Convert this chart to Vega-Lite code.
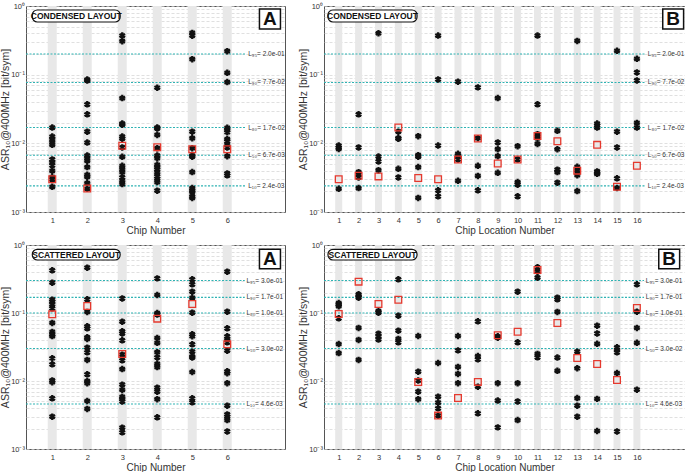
{
  "$schema": "https://vega.github.io/schema/vega-lite/v6.json",
  "padding": {"left": 0, "top": 1, "right": 0, "bottom": 0},
  "background": "white",
  "config": {
    "font": "Liberation Sans",
    "view": {"stroke": "#555", "strokeWidth": 1},
    "axis": {"labelFont": "Liberation Sans", "titleFont": "Liberation Sans", "labelFontSize": 7.5, "titleFontSize": 10, "labelColor": "#333", "titleColor": "#333", "titleFontWeight": "normal", "domain": false, "ticks": false},
    "axisY": {"titleFontSize": 10.5, "titlePadding": 0, "labelPadding": 1.5},
    "axisX": {"labelOverlap": false, "labelPadding": 4, "titlePadding": 2, "format": "d"},
    "text": {"font": "Liberation Sans"}
  },
  "datasets": {
    "chipsA": [{"chip":1},{"chip":2},{"chip":3},{"chip":4},{"chip":5},{"chip":6}],
    "chipsB": [{"chip":1},{"chip":2},{"chip":3},{"chip":4},{"chip":5},{"chip":6},{"chip":7},{"chip":8},{"chip":9},{"chip":10},{"chip":11},{"chip":12},{"chip":13},{"chip":14},{"chip":15},{"chip":16}],
    "levels": [
      {"p":"C","label":"L₉₅= 2.0e-01","value":0.2},
      {"p":"C","label":"L₉₀= 7.7e-02","value":0.077},
      {"p":"C","label":"L₈₀= 1.7e-02","value":0.017},
      {"p":"C","label":"L₅₀= 6.7e-03","value":0.0067},
      {"p":"C","label":"L₁₀= 2.4e-03","value":0.0024},
      {"p":"S","label":"L₉₅= 3.0e-01","value":0.3},
      {"p":"S","label":"L₉₀= 1.7e-01","value":0.17},
      {"p":"S","label":"L₈₀= 1.0e-01","value":0.1},
      {"p":"S","label":"L₅₀= 3.0e-02","value":0.03},
      {"p":"S","label":"L₁₀= 4.6e-03","value":0.0046}
    ],
    "notes": [
      {"p":"AC","layout":"CONDENSED LAYOUT","tag":"A"},
      {"p":"BC","layout":"CONDENSED LAYOUT","tag":"B"},
      {"p":"AS","layout":"SCATTERED LAYOUT","tag":"A"},
      {"p":"BS","layout":"SCATTERED LAYOUT","tag":"B"}
    ],
    "refs": [
      {"p":"AC","chip":1,"asr":0.0030},{"p":"AC","chip":2,"asr":0.0022},{"p":"AC","chip":3,"asr":0.0092},{"p":"AC","chip":4,"asr":0.0088},{"p":"AC","chip":5,"asr":0.0082},{"p":"AC","chip":6,"asr":0.0082},
      {"p":"BC","chip":1,"asr":0.0030},{"p":"BC","chip":2,"asr":0.00337},{"p":"BC","chip":3,"asr":0.0033},{"p":"BC","chip":4,"asr":0.017},{"p":"BC","chip":5,"asr":0.00312},{"p":"BC","chip":6,"asr":0.0030},{"p":"BC","chip":7,"asr":0.00582},{"p":"BC","chip":8,"asr":0.01175},{"p":"BC","chip":9,"asr":0.00509},{"p":"BC","chip":10,"asr":0.0058},{"p":"BC","chip":11,"asr":0.0128},{"p":"BC","chip":12,"asr":0.01074},{"p":"BC","chip":13,"asr":0.0040},{"p":"BC","chip":14,"asr":0.0095},{"p":"BC","chip":15,"asr":0.00233},{"p":"BC","chip":16,"asr":0.00471},
      {"p":"AS","chip":1,"asr":0.0955},{"p":"AS","chip":2,"asr":0.127},{"p":"AS","chip":3,"asr":0.0249},{"p":"AS","chip":4,"asr":0.0826},{"p":"AS","chip":5,"asr":0.1356},{"p":"AS","chip":6,"asr":0.0346},
      {"p":"BS","chip":1,"asr":0.0966},{"p":"BS","chip":2,"asr":0.289},{"p":"BS","chip":3,"asr":0.1356},{"p":"BS","chip":4,"asr":0.157},{"p":"BS","chip":5,"asr":0.00967},{"p":"BS","chip":6,"asr":0.0031},{"p":"BS","chip":7,"asr":0.00562},{"p":"BS","chip":8,"asr":0.0097},{"p":"BS","chip":9,"asr":0.047},{"p":"BS","chip":10,"asr":0.0531},{"p":"BS","chip":11,"asr":0.429},{"p":"BS","chip":12,"asr":0.0713},{"p":"BS","chip":13,"asr":0.0218},{"p":"BS","chip":14,"asr":0.0178},{"p":"BS","chip":15,"asr":0.01035},{"p":"BS","chip":16,"asr":0.1186}
    ],
    "samples": [
      {"p":"AC","chip":1,"asr":0.0170},{"p":"AC","chip":1,"asr":0.01256},{"p":"AC","chip":1,"asr":0.01148},{"p":"AC","chip":1,"asr":0.01038},{"p":"AC","chip":1,"asr":0.0095},{"p":"AC","chip":1,"asr":0.00582},{"p":"AC","chip":1,"asr":0.00532},{"p":"AC","chip":1,"asr":0.00476},{"p":"AC","chip":1,"asr":0.00398},{"p":"AC","chip":1,"asr":0.00323},{"p":"AC","chip":1,"asr":0.00295},{"p":"AC","chip":1,"asr":0.00233},
      {"p":"AC","chip":2,"asr":0.085},{"p":"AC","chip":2,"asr":0.082},{"p":"AC","chip":2,"asr":0.037},{"p":"AC","chip":2,"asr":0.0265},{"p":"AC","chip":2,"asr":0.0148},{"p":"AC","chip":2,"asr":0.01028},{"p":"AC","chip":2,"asr":0.00665},{"p":"AC","chip":2,"asr":0.00608},{"p":"AC","chip":2,"asr":0.00557},{"p":"AC","chip":2,"asr":0.00451},{"p":"AC","chip":2,"asr":0.00348},{"p":"AC","chip":2,"asr":0.00326},{"p":"AC","chip":2,"asr":0.00264},{"p":"AC","chip":2,"asr":0.00218},
      {"p":"AC","chip":3,"asr":0.371},{"p":"AC","chip":3,"asr":0.307},{"p":"AC","chip":3,"asr":0.0457},{"p":"AC","chip":3,"asr":0.0194},{"p":"AC","chip":3,"asr":0.0187},{"p":"AC","chip":3,"asr":0.01256},{"p":"AC","chip":3,"asr":0.0117},{"p":"AC","chip":3,"asr":0.0087},{"p":"AC","chip":3,"asr":0.00637},{"p":"AC","chip":3,"asr":0.00471},{"p":"AC","chip":3,"asr":0.00421},{"p":"AC","chip":3,"asr":0.00381},{"p":"AC","chip":3,"asr":0.00319},{"p":"AC","chip":3,"asr":0.00285},{"p":"AC","chip":3,"asr":0.00255},
      {"p":"AC","chip":4,"asr":0.0645},{"p":"AC","chip":4,"asr":0.0170},{"p":"AC","chip":4,"asr":0.0165},{"p":"AC","chip":4,"asr":0.01327},{"p":"AC","chip":4,"asr":0.0085},{"p":"AC","chip":4,"asr":0.00665},{"p":"AC","chip":4,"asr":0.00608},{"p":"AC","chip":4,"asr":0.00487},{"p":"AC","chip":4,"asr":0.00451},{"p":"AC","chip":4,"asr":0.00414},{"p":"AC","chip":4,"asr":0.0037},{"p":"AC","chip":4,"asr":0.0033},{"p":"AC","chip":4,"asr":0.00305},{"p":"AC","chip":4,"asr":0.00273},{"p":"AC","chip":4,"asr":0.00204},
      {"p":"AC","chip":5,"asr":0.406},{"p":"AC","chip":5,"asr":0.37},{"p":"AC","chip":5,"asr":0.168},{"p":"AC","chip":5,"asr":0.0148},{"p":"AC","chip":5,"asr":0.01187},{"p":"AC","chip":5,"asr":0.0085},{"p":"AC","chip":5,"asr":0.00665},{"p":"AC","chip":5,"asr":0.0064},{"p":"AC","chip":5,"asr":0.00381},{"p":"AC","chip":5,"asr":0.00223},{"p":"AC","chip":5,"asr":0.00204},{"p":"AC","chip":5,"asr":0.00196},{"p":"AC","chip":5,"asr":0.00169},{"p":"AC","chip":5,"asr":0.0016},
      {"p":"AC","chip":6,"asr":0.22},{"p":"AC","chip":6,"asr":0.1066},{"p":"AC","chip":6,"asr":0.078},{"p":"AC","chip":6,"asr":0.0168},{"p":"AC","chip":6,"asr":0.0156},{"p":"AC","chip":6,"asr":0.0145},{"p":"AC","chip":6,"asr":0.01148},{"p":"AC","chip":6,"asr":0.0107},{"p":"AC","chip":6,"asr":0.0095},{"p":"AC","chip":6,"asr":0.0087},{"p":"AC","chip":6,"asr":0.0065},{"p":"AC","chip":6,"asr":0.00365},{"p":"AC","chip":6,"asr":0.00342},
      {"p":"BC","chip":1,"asr":0.0093},{"p":"BC","chip":1,"asr":0.0087},{"p":"BC","chip":1,"asr":0.0083},{"p":"BC","chip":1,"asr":0.00218},
      {"p":"BC","chip":2,"asr":0.0265},{"p":"BC","chip":2,"asr":0.0087},{"p":"BC","chip":2,"asr":0.0038},{"p":"BC","chip":2,"asr":0.0035},{"p":"BC","chip":2,"asr":0.00319},{"p":"BC","chip":2,"asr":0.00223},
      {"p":"BC","chip":3,"asr":0.401},{"p":"BC","chip":3,"asr":0.00643},{"p":"BC","chip":3,"asr":0.00544},{"p":"BC","chip":3,"asr":0.00407},
      {"p":"BC","chip":4,"asr":0.0148},{"p":"BC","chip":4,"asr":0.0119},{"p":"BC","chip":4,"asr":0.0117},{"p":"BC","chip":4,"asr":0.00426},{"p":"BC","chip":4,"asr":0.00319},
      {"p":"BC","chip":5,"asr":0.0127},{"p":"BC","chip":5,"asr":0.00673},{"p":"BC","chip":5,"asr":0.0064},{"p":"BC","chip":5,"asr":0.00451},{"p":"BC","chip":5,"asr":0.0016},
      {"p":"BC","chip":6,"asr":0.371},{"p":"BC","chip":6,"asr":0.0853},{"p":"BC","chip":6,"asr":0.0093},{"p":"BC","chip":6,"asr":0.00207},{"p":"BC","chip":6,"asr":0.00169},
      {"p":"BC","chip":7,"asr":0.0789},{"p":"BC","chip":7,"asr":0.00703},{"p":"BC","chip":7,"asr":0.0066},{"p":"BC","chip":7,"asr":0.00582},{"p":"BC","chip":7,"asr":0.00285},
      {"p":"BC","chip":8,"asr":0.0653},{"p":"BC","chip":8,"asr":0.0119},{"p":"BC","chip":8,"asr":0.00471},{"p":"BC","chip":8,"asr":0.00335},{"p":"BC","chip":8,"asr":0.00207},
      {"p":"BC","chip":9,"asr":0.0457},{"p":"BC","chip":9,"asr":0.0103},{"p":"BC","chip":9,"asr":0.00822},{"p":"BC","chip":9,"asr":0.0065},{"p":"BC","chip":9,"asr":0.00372},
      {"p":"BC","chip":10,"asr":0.0091},{"p":"BC","chip":10,"asr":0.00582},{"p":"BC","chip":10,"asr":0.00273},{"p":"BC","chip":10,"asr":0.0025},{"p":"BC","chip":10,"asr":0.00169},
      {"p":"BC","chip":11,"asr":0.371},{"p":"BC","chip":11,"asr":0.037},{"p":"BC","chip":11,"asr":0.0136},{"p":"BC","chip":11,"asr":0.01256},{"p":"BC","chip":11,"asr":0.0119},{"p":"BC","chip":11,"asr":0.0098},
      {"p":"BC","chip":12,"asr":0.0152},{"p":"BC","chip":12,"asr":0.0082},{"p":"BC","chip":12,"asr":0.00414},{"p":"BC","chip":12,"asr":0.00381},{"p":"BC","chip":12,"asr":0.00267},
      {"p":"BC","chip":13,"asr":0.31},{"p":"BC","chip":13,"asr":0.00455},{"p":"BC","chip":13,"asr":0.00398},{"p":"BC","chip":13,"asr":0.00344},{"p":"BC","chip":13,"asr":0.00202},
      {"p":"BC","chip":14,"asr":0.0194},{"p":"BC","chip":14,"asr":0.0182},{"p":"BC","chip":14,"asr":0.017},{"p":"BC","chip":14,"asr":0.0039},{"p":"BC","chip":14,"asr":0.0037},{"p":"BC","chip":14,"asr":0.0036},
      {"p":"BC","chip":15,"asr":0.2223},{"p":"BC","chip":15,"asr":0.0148},{"p":"BC","chip":15,"asr":0.0087},{"p":"BC","chip":15,"asr":0.0031},{"p":"BC","chip":15,"asr":0.00223},
      {"p":"BC","chip":16,"asr":0.17},{"p":"BC","chip":16,"asr":0.1077},{"p":"BC","chip":16,"asr":0.0824},{"p":"BC","chip":16,"asr":0.0198},{"p":"BC","chip":16,"asr":0.017},
      {"p":"AS","chip":1,"asr":0.424},{"p":"AS","chip":1,"asr":0.279},{"p":"AS","chip":1,"asr":0.157},{"p":"AS","chip":1,"asr":0.147},{"p":"AS","chip":1,"asr":0.133},{"p":"AS","chip":1,"asr":0.117},{"p":"AS","chip":1,"asr":0.0713},{"p":"AS","chip":1,"asr":0.0526},{"p":"AS","chip":1,"asr":0.048},{"p":"AS","chip":1,"asr":0.0458},{"p":"AS","chip":1,"asr":0.0216},{"p":"AS","chip":1,"asr":0.0176},{"p":"AS","chip":1,"asr":0.0102},{"p":"AS","chip":1,"asr":0.0096},{"p":"AS","chip":1,"asr":0.00556},{"p":"AS","chip":1,"asr":0.00299},
      {"p":"AS","chip":2,"asr":0.464},{"p":"AS","chip":2,"asr":0.159},{"p":"AS","chip":2,"asr":0.1035},{"p":"AS","chip":2,"asr":0.0637},{"p":"AS","chip":2,"asr":0.0595},{"p":"AS","chip":2,"asr":0.0439},{"p":"AS","chip":2,"asr":0.0415},{"p":"AS","chip":2,"asr":0.0309},{"p":"AS","chip":2,"asr":0.0264},{"p":"AS","chip":2,"asr":0.0204},{"p":"AS","chip":2,"asr":0.01253},{"p":"AS","chip":2,"asr":0.01},{"p":"AS","chip":2,"asr":0.0093},{"p":"AS","chip":2,"asr":0.00508},{"p":"AS","chip":2,"asr":0.00388},
      {"p":"AS","chip":3,"asr":0.164},{"p":"AS","chip":3,"asr":0.0746},{"p":"AS","chip":3,"asr":0.0537},{"p":"AS","chip":3,"asr":0.05},{"p":"AS","chip":3,"asr":0.0397},{"p":"AS","chip":3,"asr":0.0244},{"p":"AS","chip":3,"asr":0.0201},{"p":"AS","chip":3,"asr":0.015},{"p":"AS","chip":3,"asr":0.00883},{"p":"AS","chip":3,"asr":0.00738},{"p":"AS","chip":3,"asr":0.00582},{"p":"AS","chip":3,"asr":0.0054},{"p":"AS","chip":3,"asr":0.005},{"p":"AS","chip":3,"asr":0.00206},{"p":"AS","chip":3,"asr":0.00176},
      {"p":"AS","chip":4,"asr":0.323},{"p":"AS","chip":4,"asr":0.184},{"p":"AS","chip":4,"asr":0.1},{"p":"AS","chip":4,"asr":0.095},{"p":"AS","chip":4,"asr":0.0429},{"p":"AS","chip":4,"asr":0.0364},{"p":"AS","chip":4,"asr":0.0265},{"p":"AS","chip":4,"asr":0.0222},{"p":"AS","chip":4,"asr":0.0179},{"p":"AS","chip":4,"asr":0.016},{"p":"AS","chip":4,"asr":0.00798},{"p":"AS","chip":4,"asr":0.00696},{"p":"AS","chip":4,"asr":0.0054},{"p":"AS","chip":4,"asr":0.00292},
      {"p":"AS","chip":5,"asr":0.313},{"p":"AS","chip":5,"asr":0.264},{"p":"AS","chip":5,"asr":0.206},{"p":"AS","chip":5,"asr":0.167},{"p":"AS","chip":5,"asr":0.101},{"p":"AS","chip":5,"asr":0.0486},{"p":"AS","chip":5,"asr":0.0455},{"p":"AS","chip":5,"asr":0.0346},{"p":"AS","chip":5,"asr":0.027},{"p":"AS","chip":5,"asr":0.0228},{"p":"AS","chip":5,"asr":0.0222},{"p":"AS","chip":5,"asr":0.01356},{"p":"AS","chip":5,"asr":0.00556},{"p":"AS","chip":5,"asr":0.00486},
      {"p":"AS","chip":6,"asr":0.405},{"p":"AS","chip":6,"asr":0.1047},{"p":"AS","chip":6,"asr":0.0595},{"p":"AS","chip":6,"asr":0.0455},{"p":"AS","chip":6,"asr":0.0415},{"p":"AS","chip":6,"asr":0.0371},{"p":"AS","chip":6,"asr":0.0279},{"p":"AS","chip":6,"asr":0.0139},{"p":"AS","chip":6,"asr":0.013},{"p":"AS","chip":6,"asr":0.0093},{"p":"AS","chip":6,"asr":0.00434},{"p":"AS","chip":6,"asr":0.00323},{"p":"AS","chip":6,"asr":0.003},{"p":"AS","chip":6,"asr":0.00266},{"p":"AS","chip":6,"asr":0.00181},
      {"p":"BS","chip":1,"asr":0.14},{"p":"BS","chip":1,"asr":0.133},{"p":"BS","chip":1,"asr":0.126},{"p":"BS","chip":1,"asr":0.0835},{"p":"BS","chip":1,"asr":0.035},{"p":"BS","chip":1,"asr":0.0258},
      {"p":"BS","chip":2,"asr":0.188},{"p":"BS","chip":2,"asr":0.178},{"p":"BS","chip":2,"asr":0.168},{"p":"BS","chip":2,"asr":0.0602},{"p":"BS","chip":2,"asr":0.0401},{"p":"BS","chip":2,"asr":0.0204},
      {"p":"BS","chip":3,"asr":0.107},{"p":"BS","chip":3,"asr":0.101},{"p":"BS","chip":3,"asr":0.0497},{"p":"BS","chip":3,"asr":0.0449},{"p":"BS","chip":3,"asr":0.0406},
      {"p":"BS","chip":4,"asr":0.313},{"p":"BS","chip":4,"asr":0.0914},{"p":"BS","chip":4,"asr":0.055},{"p":"BS","chip":4,"asr":0.0415},{"p":"BS","chip":4,"asr":0.0371},
      {"p":"BS","chip":5,"asr":0.0459},{"p":"BS","chip":5,"asr":0.0137},{"p":"BS","chip":5,"asr":0.0102},{"p":"BS","chip":5,"asr":0.00697},{"p":"BS","chip":5,"asr":0.0054},
      {"p":"BS","chip":6,"asr":0.0184},{"p":"BS","chip":6,"asr":0.00589},{"p":"BS","chip":6,"asr":0.00482},{"p":"BS","chip":6,"asr":0.00396},{"p":"BS","chip":6,"asr":0.00309},
      {"p":"BS","chip":7,"asr":0.0459},{"p":"BS","chip":7,"asr":0.0282},{"p":"BS","chip":7,"asr":0.0161},{"p":"BS","chip":7,"asr":0.0127},{"p":"BS","chip":7,"asr":0.0093},
      {"p":"BS","chip":8,"asr":0.0755},{"p":"BS","chip":8,"asr":0.0233},{"p":"BS","chip":8,"asr":0.0208},{"p":"BS","chip":8,"asr":0.00826},{"p":"BS","chip":8,"asr":0.00335},
      {"p":"BS","chip":9,"asr":0.0455},{"p":"BS","chip":9,"asr":0.0434},{"p":"BS","chip":9,"asr":0.0093},{"p":"BS","chip":9,"asr":0.00516},{"p":"BS","chip":9,"asr":0.00208},
      {"p":"BS","chip":10,"asr":0.206},{"p":"BS","chip":10,"asr":0.0371},{"p":"BS","chip":10,"asr":0.0093},{"p":"BS","chip":10,"asr":0.005},{"p":"BS","chip":10,"asr":0.00266},
      {"p":"BS","chip":11,"asr":0.469},{"p":"BS","chip":11,"asr":0.405},{"p":"BS","chip":11,"asr":0.331},{"p":"BS","chip":11,"asr":0.025},{"p":"BS","chip":11,"asr":0.0223},
      {"p":"BS","chip":12,"asr":0.168},{"p":"BS","chip":12,"asr":0.159},{"p":"BS","chip":12,"asr":0.1035},{"p":"BS","chip":12,"asr":0.0221},{"p":"BS","chip":12,"asr":0.0141},
      {"p":"BS","chip":13,"asr":0.027},{"p":"BS","chip":13,"asr":0.0154},{"p":"BS","chip":13,"asr":0.00562},{"p":"BS","chip":13,"asr":0.00434},{"p":"BS","chip":13,"asr":0.00299},
      {"p":"BS","chip":14,"asr":0.0651},{"p":"BS","chip":14,"asr":0.05},{"p":"BS","chip":14,"asr":0.0352},{"p":"BS","chip":14,"asr":0.00546},{"p":"BS","chip":14,"asr":0.00184},
      {"p":"BS","chip":15,"asr":0.0313},{"p":"BS","chip":15,"asr":0.0287},{"p":"BS","chip":15,"asr":0.0264},{"p":"BS","chip":15,"asr":0.0131},{"p":"BS","chip":15,"asr":0.00181},
      {"p":"BS","chip":16,"asr":0.264},{"p":"BS","chip":16,"asr":0.1047},{"p":"BS","chip":16,"asr":0.0602},{"p":"BS","chip":16,"asr":0.0365},{"p":"BS","chip":16,"asr":0.00746}
    ]
  },
  "columns": 2,
  "spacing": {"row": 33, "column": 39},
  "bounds": "flush",
  "concat": [
        {
          "width": 259, "height": 206,
          "layer": [
            {"data": {"name": "chipsA"}, "mark": {"type": "rule", "color": "#e8e8e8", "strokeWidth": 9},
             "encoding": {
               "x": {"field": "chip", "type": "quantitative", "scale": {"domain": [0.25, 7.65], "nice": false, "zero": false}, "axis": {"values": [1,2,3,4,5,6], "tickCount": 20, "format": "d", "title": "Chip Number", "grid": false, "labelOverlap": false}},
               "y": {"datum": 0.001, "type": "quantitative", "scale": {"type": "log", "domain": [0.001, 1], "nice": false}, "axis": {"title": "ASR₁₀@400MHz [bit/sym]", "values": [0.001,0.002,0.003,0.004,0.005,0.006,0.007,0.008,0.009,0.01,0.02,0.03,0.04,0.05,0.06,0.07,0.08,0.09,0.1,0.2,0.3,0.4,0.5,0.6,0.7,0.8,0.9,1], "labelExpr": "datum.value == 1 ? '10⁰' : datum.value == 0.1 ? '10⁻¹' : datum.value == 0.01 ? '10⁻²' : datum.value == 0.001 ? '10⁻³' : ''", "labelOverlap": false, "grid": true, "gridColor": "#d2d2d2", "gridDash": [3, 2], "gridWidth": 0.7}},
               "y2": {"datum": 1}}},
            {"data": {"name": "levels"}, "transform": [{"filter": "datum.p == 'C'"}], "mark": {"type": "rule", "color": "#2fb3b3", "strokeDash": [2, 1.5], "strokeWidth": 1.1},
             "encoding": {"x": {"datum": 0.25}, "x2": {"datum": 6.55}, "y": {"field": "value", "type": "quantitative"}}},
            {"data": {"name": "levels"}, "transform": [{"filter": "datum.p == 'C'"}], "mark": {"type": "text", "align": "left", "baseline": "middle", "fontSize": 6.5, "color": "#333"},
             "encoding": {"x": {"datum": 6.6}, "y": {"field": "value", "type": "quantitative"}, "text": {"field": "label"}}},
            {"data": {"name": "samples"}, "transform": [{"filter": "datum.p == 'AC'"}], "mark": {"type": "point", "shape": "M0,-1L0,1M-0.87,-0.5L0.87,0.5M-0.87,0.5L0.87,-0.5", "filled": false, "color": "#111", "strokeWidth": 2.3, "size": 42, "opacity": 1},
             "encoding": {"x": {"field": "chip", "type": "quantitative"}, "y": {"field": "asr", "type": "quantitative"}}},
            {"data": {"name": "refs"}, "transform": [{"filter": "datum.p == 'AC'"}], "mark": {"type": "point", "shape": "square", "filled": false, "color": "#e5392e", "strokeWidth": 1.3, "size": 45, "opacity": 1},
             "encoding": {"x": {"field": "chip", "type": "quantitative"}, "y": {"field": "asr", "type": "quantitative"}}},
            {"data": {"name": "notes"}, "transform": [{"filter": "datum.p == 'AC'"}], "mark": {"type": "rect", "cornerRadius": 5, "fill": "white", "stroke": "#111", "strokeWidth": 1.2},
             "encoding": {"x": {"datum": 0.43}, "x2": {"datum": 2.94}, "y": {"datum": 0.875}, "y2": {"datum": 0.585}}},
            {"data": {"name": "notes"}, "transform": [{"filter": "datum.p == 'AC'"}], "mark": {"type": "text", "fontWeight": "bold", "fontSize": 8.5, "color": "#111", "baseline": "middle"},
             "encoding": {"x": {"datum": 1.685}, "y": {"datum": 0.715}, "text": {"field": "layout"}}},
            {"data": {"name": "notes"}, "transform": [{"filter": "datum.p == 'AC'"}], "mark": {"type": "rect", "fill": "white", "stroke": "#111", "strokeWidth": 1.5},
             "encoding": {"x": {"datum": 6.92}, "x2": {"datum": 7.52}, "y": {"datum": 0.904}, "y2": {"datum": 0.462}}},
            {"data": {"name": "notes"}, "transform": [{"filter": "datum.p == 'AC'"}], "mark": {"type": "text", "fontWeight": "bold", "fontSize": 19, "color": "#111", "baseline": "middle"},
             "encoding": {"x": {"datum": 7.22}, "y": {"datum": 0.646}, "text": {"field": "tag"}}}
          ]
        },
        {
          "width": 361, "height": 206,
          "layer": [
            {"data": {"name": "chipsB"}, "mark": {"type": "rule", "color": "#e8e8e8", "strokeWidth": 7},
             "encoding": {
               "x": {"field": "chip", "type": "quantitative", "scale": {"domain": [0.26, 18.42], "nice": false, "zero": false}, "axis": {"values": [1,2,3,4,5,6,7,8,9,10,11,12,13,14,15,16], "tickCount": 20, "format": "d", "title": "Chip Location Number", "grid": false, "labelOverlap": false}},
               "y": {"datum": 0.001, "type": "quantitative", "scale": {"type": "log", "domain": [0.001, 1], "nice": false}, "axis": {"title": "ASR₁₀@400MHz [bit/sym]", "values": [0.001,0.002,0.003,0.004,0.005,0.006,0.007,0.008,0.009,0.01,0.02,0.03,0.04,0.05,0.06,0.07,0.08,0.09,0.1,0.2,0.3,0.4,0.5,0.6,0.7,0.8,0.9,1], "labelExpr": "datum.value == 1 ? '10⁰' : datum.value == 0.1 ? '10⁻¹' : datum.value == 0.01 ? '10⁻²' : datum.value == 0.001 ? '10⁻³' : ''", "labelOverlap": false, "grid": true, "gridColor": "#d2d2d2", "gridDash": [3, 2], "gridWidth": 0.7}},
               "y2": {"datum": 1}}},
            {"data": {"name": "levels"}, "transform": [{"filter": "datum.p == 'C'"}], "mark": {"type": "rule", "color": "#2fb3b3", "strokeDash": [2, 1.5], "strokeWidth": 1.1},
             "encoding": {"x": {"datum": 0.26}, "x2": {"datum": 16.45}, "y": {"field": "value", "type": "quantitative"}}},
            {"data": {"name": "levels"}, "transform": [{"filter": "datum.p == 'C'"}], "mark": {"type": "text", "align": "left", "baseline": "middle", "fontSize": 6.5, "color": "#333"},
             "encoding": {"x": {"datum": 16.55}, "y": {"field": "value", "type": "quantitative"}, "text": {"field": "label"}}},
            {"data": {"name": "samples"}, "transform": [{"filter": "datum.p == 'BC'"}], "mark": {"type": "point", "shape": "M0,-1L0,1M-0.87,-0.5L0.87,0.5M-0.87,0.5L0.87,-0.5", "filled": false, "color": "#111", "strokeWidth": 2.3, "size": 42, "opacity": 1},
             "encoding": {"x": {"field": "chip", "type": "quantitative"}, "y": {"field": "asr", "type": "quantitative"}}},
            {"data": {"name": "refs"}, "transform": [{"filter": "datum.p == 'BC'"}], "mark": {"type": "point", "shape": "square", "filled": false, "color": "#e5392e", "strokeWidth": 1.3, "size": 45, "opacity": 1},
             "encoding": {"x": {"field": "chip", "type": "quantitative"}, "y": {"field": "asr", "type": "quantitative"}}},
            {"data": {"name": "notes"}, "transform": [{"filter": "datum.p == 'BC'"}], "mark": {"type": "rect", "cornerRadius": 5, "fill": "white", "stroke": "#111", "strokeWidth": 1.2},
             "encoding": {"x": {"datum": 0.46}, "x2": {"datum": 4.94}, "y": {"datum": 0.875}, "y2": {"datum": 0.585}}},
            {"data": {"name": "notes"}, "transform": [{"filter": "datum.p == 'BC'"}], "mark": {"type": "text", "fontWeight": "bold", "fontSize": 8.5, "color": "#111", "baseline": "middle"},
             "encoding": {"x": {"datum": 2.7}, "y": {"datum": 0.715}, "text": {"field": "layout"}}},
            {"data": {"name": "notes"}, "transform": [{"filter": "datum.p == 'BC'"}], "mark": {"type": "rect", "fill": "white", "stroke": "#111", "strokeWidth": 1.5},
             "encoding": {"x": {"datum": 17.3}, "x2": {"datum": 18.35}, "y": {"datum": 0.904}, "y2": {"datum": 0.462}}},
            {"data": {"name": "notes"}, "transform": [{"filter": "datum.p == 'BC'"}], "mark": {"type": "text", "fontWeight": "bold", "fontSize": 19, "color": "#111", "baseline": "middle"},
             "encoding": {"x": {"datum": 17.82}, "y": {"datum": 0.646}, "text": {"field": "tag"}}}
          ]
        },
        {
          "width": 259, "height": 204,
          "layer": [
            {"data": {"name": "chipsA"}, "mark": {"type": "rule", "color": "#e8e8e8", "strokeWidth": 9},
             "encoding": {
               "x": {"field": "chip", "type": "quantitative", "scale": {"domain": [0.25, 7.65], "nice": false, "zero": false}, "axis": {"values": [1,2,3,4,5,6], "tickCount": 20, "format": "d", "title": "Chip Number", "grid": false, "labelOverlap": false}},
               "y": {"datum": 0.001, "type": "quantitative", "scale": {"type": "log", "domain": [0.001, 1], "nice": false}, "axis": {"title": "ASR₁₀@400MHz [bit/sym]", "values": [0.001,0.002,0.003,0.004,0.005,0.006,0.007,0.008,0.009,0.01,0.02,0.03,0.04,0.05,0.06,0.07,0.08,0.09,0.1,0.2,0.3,0.4,0.5,0.6,0.7,0.8,0.9,1], "labelExpr": "datum.value == 1 ? '10⁰' : datum.value == 0.1 ? '10⁻¹' : datum.value == 0.01 ? '10⁻²' : datum.value == 0.001 ? '10⁻³' : ''", "labelOverlap": false, "grid": true, "gridColor": "#d2d2d2", "gridDash": [3, 2], "gridWidth": 0.7}},
               "y2": {"datum": 1}}},
            {"data": {"name": "levels"}, "transform": [{"filter": "datum.p == 'S'"}], "mark": {"type": "rule", "color": "#2fb3b3", "strokeDash": [2, 1.5], "strokeWidth": 1.1},
             "encoding": {"x": {"datum": 0.25}, "x2": {"datum": 6.5}, "y": {"field": "value", "type": "quantitative"}}},
            {"data": {"name": "levels"}, "transform": [{"filter": "datum.p == 'S'"}], "mark": {"type": "text", "align": "left", "baseline": "middle", "fontSize": 6.5, "color": "#333"},
             "encoding": {"x": {"datum": 6.55}, "y": {"field": "value", "type": "quantitative"}, "text": {"field": "label"}}},
            {"data": {"name": "samples"}, "transform": [{"filter": "datum.p == 'AS'"}], "mark": {"type": "point", "shape": "M0,-1L0,1M-0.87,-0.5L0.87,0.5M-0.87,0.5L0.87,-0.5", "filled": false, "color": "#111", "strokeWidth": 2.3, "size": 42, "opacity": 1},
             "encoding": {"x": {"field": "chip", "type": "quantitative"}, "y": {"field": "asr", "type": "quantitative"}}},
            {"data": {"name": "refs"}, "transform": [{"filter": "datum.p == 'AS'"}], "mark": {"type": "point", "shape": "square", "filled": false, "color": "#e5392e", "strokeWidth": 1.3, "size": 45, "opacity": 1},
             "encoding": {"x": {"field": "chip", "type": "quantitative"}, "y": {"field": "asr", "type": "quantitative"}}},
            {"data": {"name": "notes"}, "transform": [{"filter": "datum.p == 'AS'"}], "mark": {"type": "rect", "cornerRadius": 5, "fill": "white", "stroke": "#111", "strokeWidth": 1.2},
             "encoding": {"x": {"datum": 0.43}, "x2": {"datum": 2.94}, "y": {"datum": 0.865}, "y2": {"datum": 0.602}}},
            {"data": {"name": "notes"}, "transform": [{"filter": "datum.p == 'AS'"}], "mark": {"type": "text", "fontWeight": "bold", "fontSize": 8.5, "color": "#111", "baseline": "middle"},
             "encoding": {"x": {"datum": 1.685}, "y": {"datum": 0.72}, "text": {"field": "layout"}}},
            {"data": {"name": "notes"}, "transform": [{"filter": "datum.p == 'AS'"}], "mark": {"type": "rect", "fill": "white", "stroke": "#111", "strokeWidth": 1.5},
             "encoding": {"x": {"datum": 6.92}, "x2": {"datum": 7.52}, "y": {"datum": 0.865}, "y2": {"datum": 0.448}}},
            {"data": {"name": "notes"}, "transform": [{"filter": "datum.p == 'AS'"}], "mark": {"type": "text", "fontWeight": "bold", "fontSize": 19, "color": "#111", "baseline": "middle"},
             "encoding": {"x": {"datum": 7.22}, "y": {"datum": 0.622}, "text": {"field": "tag"}}}
          ]
        },
        {
          "width": 361, "height": 204,
          "layer": [
            {"data": {"name": "chipsB"}, "mark": {"type": "rule", "color": "#e8e8e8", "strokeWidth": 7},
             "encoding": {
               "x": {"field": "chip", "type": "quantitative", "scale": {"domain": [0.26, 18.42], "nice": false, "zero": false}, "axis": {"values": [1,2,3,4,5,6,7,8,9,10,11,12,13,14,15,16], "tickCount": 20, "format": "d", "title": "Chip Location Number", "grid": false, "labelOverlap": false}},
               "y": {"datum": 0.001, "type": "quantitative", "scale": {"type": "log", "domain": [0.001, 1], "nice": false}, "axis": {"title": "ASR₁₀@400MHz [bit/sym]", "values": [0.001,0.002,0.003,0.004,0.005,0.006,0.007,0.008,0.009,0.01,0.02,0.03,0.04,0.05,0.06,0.07,0.08,0.09,0.1,0.2,0.3,0.4,0.5,0.6,0.7,0.8,0.9,1], "labelExpr": "datum.value == 1 ? '10⁰' : datum.value == 0.1 ? '10⁻¹' : datum.value == 0.01 ? '10⁻²' : datum.value == 0.001 ? '10⁻³' : ''", "labelOverlap": false, "grid": true, "gridColor": "#d2d2d2", "gridDash": [3, 2], "gridWidth": 0.7}},
               "y2": {"datum": 1}}},
            {"data": {"name": "levels"}, "transform": [{"filter": "datum.p == 'S'"}], "mark": {"type": "rule", "color": "#2fb3b3", "strokeDash": [2, 1.5], "strokeWidth": 1.1},
             "encoding": {"x": {"datum": 0.26}, "x2": {"datum": 16.36}, "y": {"field": "value", "type": "quantitative"}}},
            {"data": {"name": "levels"}, "transform": [{"filter": "datum.p == 'S'"}], "mark": {"type": "text", "align": "left", "baseline": "middle", "fontSize": 6.5, "color": "#333"},
             "encoding": {"x": {"datum": 16.45}, "y": {"field": "value", "type": "quantitative"}, "text": {"field": "label"}}},
            {"data": {"name": "samples"}, "transform": [{"filter": "datum.p == 'BS'"}], "mark": {"type": "point", "shape": "M0,-1L0,1M-0.87,-0.5L0.87,0.5M-0.87,0.5L0.87,-0.5", "filled": false, "color": "#111", "strokeWidth": 2.3, "size": 42, "opacity": 1},
             "encoding": {"x": {"field": "chip", "type": "quantitative"}, "y": {"field": "asr", "type": "quantitative"}}},
            {"data": {"name": "refs"}, "transform": [{"filter": "datum.p == 'BS'"}], "mark": {"type": "point", "shape": "square", "filled": false, "color": "#e5392e", "strokeWidth": 1.3, "size": 45, "opacity": 1},
             "encoding": {"x": {"field": "chip", "type": "quantitative"}, "y": {"field": "asr", "type": "quantitative"}}},
            {"data": {"name": "notes"}, "transform": [{"filter": "datum.p == 'BS'"}], "mark": {"type": "rect", "cornerRadius": 5, "fill": "white", "stroke": "#111", "strokeWidth": 1.2},
             "encoding": {"x": {"datum": 0.46}, "x2": {"datum": 4.94}, "y": {"datum": 0.865}, "y2": {"datum": 0.602}}},
            {"data": {"name": "notes"}, "transform": [{"filter": "datum.p == 'BS'"}], "mark": {"type": "text", "fontWeight": "bold", "fontSize": 8.5, "color": "#111", "baseline": "middle"},
             "encoding": {"x": {"datum": 2.7}, "y": {"datum": 0.72}, "text": {"field": "layout"}}},
            {"data": {"name": "notes"}, "transform": [{"filter": "datum.p == 'BS'"}], "mark": {"type": "rect", "fill": "white", "stroke": "#111", "strokeWidth": 1.5},
             "encoding": {"x": {"datum": 17.1}, "x2": {"datum": 18.15}, "y": {"datum": 0.865}, "y2": {"datum": 0.448}}},
            {"data": {"name": "notes"}, "transform": [{"filter": "datum.p == 'BS'"}], "mark": {"type": "text", "fontWeight": "bold", "fontSize": 19, "color": "#111", "baseline": "middle"},
             "encoding": {"x": {"datum": 17.62}, "y": {"datum": 0.622}, "text": {"field": "tag"}}}
          ]
        }
  ]
}
